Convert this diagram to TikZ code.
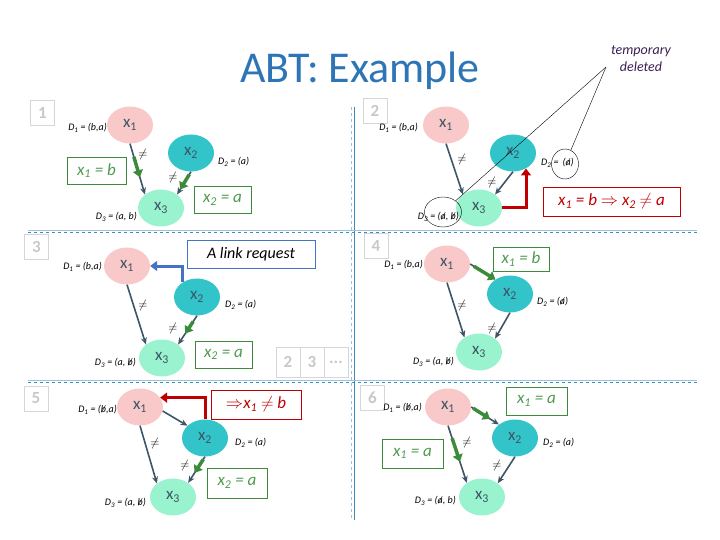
\documentclass[tikz,border=0pt]{standalone}
\usepackage{fontspec}
\setmainfont{Carlito}
\usetikzlibrary{arrows.meta,shapes.geometric,calc}

\newcommand\dl[1]{\ooalign{#1\cr\hidewidth/\hidewidth}}
\newcommand\fs[1]{\fontsize{#1}{1.2\dimexpr#1pt\relax}\selectfont}

\definecolor{pinkx}{HTML}{F9C9C9}
\definecolor{tealx}{HTML}{33C4CA}
\definecolor{mintx}{HTML}{98F3CE}
\definecolor{edgec}{HTML}{3D5566}
\definecolor{grn}{HTML}{3B8B3B}
\definecolor{grnt}{HTML}{4E9A4E}
\definecolor{redc}{HTML}{C00000}
\definecolor{bluec}{HTML}{4472C4}
\definecolor{titlec}{HTML}{2E75B6}
\definecolor{linec}{HTML}{3B8FB5}
\definecolor{linel}{HTML}{9CC3DC}
\definecolor{grayc}{HTML}{D6D6D6}
\definecolor{numc}{HTML}{C8C8C8}
\definecolor{purp}{HTML}{3B1F52}

\begin{document}
\begin{tikzpicture}[x=1pt, y=-1pt,
  var/.style={ellipse, minimum width=46pt, minimum height=37pt, inner sep=0pt, font=\fs{17}, text=edgec},
  xone/.style={var, fill=pinkx},
  xtwo/.style={var, fill=tealx},
  xthree/.style={var, fill=mintx},
  dom/.style={font=\fs{10}\itshape, inner sep=1pt},
  neq/.style={font=\fs{12}, inner sep=0pt},
  num/.style={draw=grayc, line width=0.8pt, text=numc, font=\fs{17}\bfseries, minimum width=24pt, minimum height=25pt, inner sep=0pt},
  gbox/.style={draw=grn, line width=0.8pt, text=grnt, font=\fs{17}\itshape, minimum height=27pt, inner sep=0pt},
  rbox/.style={draw=redc, line width=0.8pt, text=redc, font=\fs{17}\itshape, minimum height=29pt, inner sep=0pt},
  ring/.style={draw, thin, ellipse, inner sep=0pt},
  arr/.style={draw=edgec, line width=1.6pt, -{Stealth[length=7pt, width=6pt]}},
  garr/.style={draw=grn, line width=3.5pt, -{Triangle[length=7pt, width=10pt]}},
  rarr/.style={draw=redc, line width=3pt, -{Triangle[length=7pt, width=10pt]}},
  barr/.style={draw=bluec, line width=3pt, -{Triangle[length=7pt, width=10pt]}}
]
\useasboundingbox (0,0) rectangle (720,540);

% title and panel frame
\node[text=titlec, font=\fs{44}, anchor=base] (title) at (360,83) {ABT: Example};
\draw[linel, dashed] (351,107) -- (351,520);
\draw[linec, line width=1pt] (354,107) -- (354,520);
\draw[linec, dashed, line width=0.8pt] (28,232) -- (697,232);
\draw[linel] (28,230) -- (697,230);
\draw[linec, dashed, line width=0.8pt] (28,382) -- (697,382);
\draw[linel] (28,380) -- (697,380);

\node[num] (n1) at (42.5,112.5) {1};
\node[num] (n2) at (375,111) {2};
\node[num] (n3) at (36.5,246.5) {3};
\node[num] (n4) at (376,246) {4};
\node[num] (n5) at (36,398.5) {5};
\node[num] (n6) at (372.5,397.5) {6};
\node[num, minimum height=30pt] (pg2) at (288,362) {2};
\node[num, minimum height=30pt] (pg3) at (312,362) {3};
\node[num, minimum height=30pt] (pgd) at (336,362) {...};

% panel 1
\node[xone] (p1x1) at (130,125) {x\textsubscript{1}};
\node[xtwo] (p1x2) at (191,153) {x\textsubscript{2}};
\node[xthree] (p1x3) at (161,208) {x\textsubscript{3}};
\node[dom, anchor=east] (p1d1) at (108,128) {D\textsubscript{1} = (b,a)};
\node[dom, anchor=west] (p1d2) at (217,162) {D\textsubscript{2} = (a)};
\node[dom, anchor=east] (p1d3) at (138,217) {D\textsubscript{3} = (a, b)};
\draw[arr] (p1x1.south) -- (p1x3.140);
\draw[arr] (p1x2.south) -- (p1x3.40);
\draw[garr] ($(p1x1.south)!0.26!(p1x3.140)$) -- ($(p1x1.south)!0.66!(p1x3.140)$);
\draw[garr] ($(p1x2.south)!0.12!(p1x3.40)$) -- ($(p1x2.south)!0.78!(p1x3.40)$);
\node[neq] (p1n1) at (143,155) {$\neq$};
\node[neq] (p1n2) at (173,178) {$\neq$};
\node[gbox, minimum width=59pt] (p1b1) at (96.5,170.5) {x\textsubscript{1} = b};
\node[gbox, minimum width=57pt] (p1b2) at (222.5,200) {x\textsubscript{2} = a};

% panel 2
\node[xone] (p2x1) at (446,125) {x\textsubscript{1}};
\node[xtwo] (p2x2) at (513,153) {x\textsubscript{2}};
\node[xthree] (p2x3) at (479,208) {x\textsubscript{3}};
\node[dom, anchor=east] (p2d1) at (419,128) {D\textsubscript{1} = (b,a)};
\node[dom, anchor=west] (p2d2) at (540,163) {D\textsubscript{2} = \,(\dl{a})};
\node[dom, anchor=east] (p2d3) at (460,217) {D\textsubscript{3} = (\dl{a}, \dl{b})};
\draw[arr] (p2x1.south) -- (p2x3.140);
\draw[arr] (p2x2.south) -- (p2x3.40);
\draw[rarr] (p2x3.east) -| (p2x2.-50);
\node[neq] (p2n1) at (462,160) {$\neq$};
\node[neq] (p2n2) at (492,183) {$\neq$};
\node[rbox, minimum width=137pt] (p2b1) at (611.5,201.5) {x\textsubscript{1} = b $\Rightarrow$ x\textsubscript{2} $\neq$ a};
\node[ring, minimum width=37pt, minimum height=30pt] (p2e3) at (443,212) {};
\node[ring, minimum width=27pt, minimum height=30pt] (p2e2) at (565,164) {};
\node[text=purp, font=\fs{14}\itshape, align=center] (tmp) at (641,59) {temporary\\deleted};
\coordinate (tip) at (606,67);
\draw (tip) -- (p2e3);
\draw (tip) -- (p2e2);

% panel 3
\node[xone] (p3x1) at (127,266) {x\textsubscript{1}};
\node[xtwo] (p3x2) at (197,297) {x\textsubscript{2}};
\node[xthree] (p3x3) at (162,358) {x\textsubscript{3}};
\node[dom, anchor=east] (p3d1) at (103,267) {D\textsubscript{1} = (b,a)};
\node[dom, anchor=west] (p3d2) at (224,305) {D\textsubscript{2} = (a)};
\node[dom, anchor=east] (p3d3) at (137,363) {D\textsubscript{3} = (a, \dl{b})};
\draw[arr] (p3x1.south) -- (p3x3.140);
\draw[arr] (p3x2.south) -- (p3x3.40);
\draw[garr] ($(p3x2.south)!0.2!(p3x3.40)$) -- ($(p3x2.south)!0.62!(p3x3.40)$);
\draw[barr] (p3x2.135) |- (p3x1.east);
\node[neq] (p3n1) at (143,305) {$\neq$};
\node[neq] (p3n2) at (173,328) {$\neq$};
\node[draw=bluec, line width=0.8pt, font=\fs{16}\itshape, minimum width=128pt, minimum height=28pt, inner sep=0pt] (p3b1) at (251,254) {A link request\hspace{14pt}};
\node[gbox, minimum width=57pt] (p3b2) at (223.5,354.5) {x\textsubscript{2} = a};

% panel 4
\node[xone] (p4x1) at (447,264) {x\textsubscript{1}};
\node[xtwo] (p4x2) at (510,294) {x\textsubscript{2}};
\node[xthree] (p4x3) at (479,352) {x\textsubscript{3}};
\node[dom, anchor=east] (p4d1) at (424,265) {D\textsubscript{1} = (b,a)};
\node[dom, anchor=west] (p4d2) at (536,302) {D\textsubscript{2} = (\dl{a})};
\node[dom, anchor=east] (p4d3) at (455,362) {D\textsubscript{3} = (a, \dl{b})};
\draw[arr] (p4x1.south) -- (p4x3.135);
\draw[arr] (p4x2.south) -- (p4x3.40);
\draw[arr] (p4x1.east) -- (p4x2.135);
\draw[garr] ($(p4x1.east)!0.15!(p4x2.135)$) -- (p4x2.135);
\node[neq] (p4n1) at (462,305) {$\neq$};
\node[neq] (p4n2) at (492,328) {$\neq$};
\node[gbox, minimum width=56pt, minimum height=24pt] (p4b1) at (521,259) {x\textsubscript{1} = b};

% panel 5
\node[xone] (p5x1) at (140,407) {x\textsubscript{1}};
\node[xtwo] (p5x2) at (205,438) {x\textsubscript{2}};
\node[xthree] (p5x3) at (173,497) {x\textsubscript{3}};
\node[dom, anchor=east] (p5d1) at (118,410) {D\textsubscript{1} = (\dl{b},a)};
\node[dom, anchor=west] (p5d2) at (234,443) {D\textsubscript{2} = (a)};
\node[dom, anchor=east] (p5d3) at (147,503) {D\textsubscript{3} = (a, \dl{b})};
\draw[arr] (p5x1.south) -- (p5x3.140);
\draw[arr] (p5x2.south) -- (p5x3.43);
\draw[arr] (p5x1.-10) -- (p5x2.145);
\draw[garr] ($(p5x2.south)!0.1!(p5x3.43)$) -- ($(p5x2.south)!0.62!(p5x3.43)$);
\draw[rarr] (p5x2.north) |- (p5x1.25);
\node[neq] (p5n1) at (155,443) {$\neq$};
\node[neq] (p5n2) at (185,465) {$\neq$};
\node[rbox, minimum width=90pt] (p5b1) at (256,404.5) {$\Rightarrow$x\textsubscript{1} $\neq$ b};
\node[gbox, minimum width=60pt, minimum height=30pt] (p5b2) at (237,483) {x\textsubscript{2} = a};

% panel 6
\node[xone] (p6x1) at (448,407) {x\textsubscript{1}};
\node[xtwo] (p6x2) at (515,438) {x\textsubscript{2}};
\node[xthree] (p6x3) at (482,497) {x\textsubscript{3}};
\node[dom, anchor=east] (p6d1) at (423,408) {D\textsubscript{1} = (\dl{b},a)};
\node[dom, anchor=west] (p6d2) at (542,443) {D\textsubscript{2} = (a)};
\node[dom, anchor=east] (p6d3) at (457,501) {D\textsubscript{3} = (\dl{a}, b)};
\draw[arr] (p6x1.south) -- (p6x3.137);
\draw[arr] (p6x2.south) -- (p6x3.41);
\draw[arr] (p6x1.east) -- (p6x2.140);
\draw[garr] ($(p6x1.east)!0.07!(p6x2.140)$) -- ($(p6x1.east)!0.68!(p6x2.140)$);
\draw[garr] ($(p6x1.south)!0.22!(p6x3.137)$) -- ($(p6x1.south)!0.63!(p6x3.137)$);
\node[neq] (p6n1) at (467,442) {$\neq$};
\node[neq] (p6n2) at (497,465) {$\neq$};
\node[gbox, minimum width=61pt, minimum height=28pt] (p6b1) at (536.5,401) {x\textsubscript{1} = a};
\node[gbox, minimum width=61pt, minimum height=29pt] (p6b2) at (412.5,453.5) {x\textsubscript{1} = a};
\end{tikzpicture}
\end{document}
